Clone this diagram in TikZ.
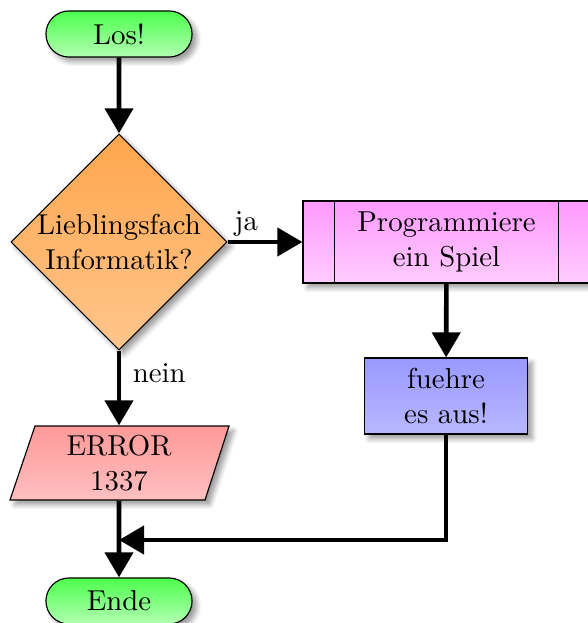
\documentclass[tikz,border=0pt]{standalone}
\usetikzlibrary{shapes.geometric,shapes.misc,arrows.meta,shadows.blur}
\begin{document}
\begin{tikzpicture}[x=0.347pt,y=-0.347pt,
  box/.style={draw=black,thin,blur shadow={shadow xshift=1.6pt,shadow yshift=-1.6pt,shadow blur steps=6},inner sep=0pt,align=center,font=\normalsize},
  startstop/.style={box,rounded rectangle,minimum width=50.7pt,minimum height=16pt,top color=green!70,bottom color=green!30},
  decision/.style={box,diamond,minimum width=75pt,minimum height=75pt,top color=orange!70,bottom color=orange!45},
  process/.style={box,rectangle},
  iofill/.style={draw=black,thin,blur shadow={shadow xshift=1.6pt,shadow yshift=-1.6pt,shadow blur steps=6},top color=red!40,bottom color=red!25},
  io/.style={rectangle,inner sep=0pt,align=center,minimum width=67pt,minimum height=25.7pt},
  arr/.style={line width=1.6pt,draw=black,fill=black,-{Triangle[width=9.7pt,length=8.7pt,fill=black]}},
  lbl/.style={font=\normalsize,inner sep=1pt}]
\useasboundingbox (0,0) rectangle (587,623);
\begin{scope}
\path[iofill] (35,426) -- (229,426) -- (205,500) -- (10,500) -- cycle;
\end{scope}
\node[startstop] (start) at (119,34) {Los!};
\node[decision] (dec) at (119,242) {};
\node[align=center,inner sep=0pt] (dectext) at (119,242) {Lieblingsfach\\Informatik?};
\node[process,minimum width=99.6pt,minimum height=28.5pt,top color=magenta!40,bottom color=magenta!20] (prog) at (446.5,242) {Programmiere\\ein Spiel};
\draw[thin] ([xshift=11.1pt]prog.north west) -- ([xshift=11.1pt]prog.south west);
\draw[thin] ([xshift=-11.1pt]prog.north east) -- ([xshift=-11.1pt]prog.south east);
\node[process,minimum width=56.6pt,minimum height=26.4pt,top color=blue!40,bottom color=blue!28] (fue) at (446,396) {fuehre\\es aus!};
\node[io] (err) at (119,463) {ERROR\\1337};
\node[startstop] (ende) at (119,601) {Ende};
\coordinate (join) at (119,540);
\draw[arr,fill=none] (start) -- (dec);
\draw[arr,fill=none] (dec.east) -- node[lbl,above,pos=0.25] (ja) {ja} (prog.west);
\draw[arr,fill=none] (prog) -- (fue);
\draw[arr,fill=none] (dec.south) -- node[lbl,right,pos=0.3,xshift=3pt] (nein) {nein} (err);
\draw[arr,fill=none] (err) -- (ende);
\draw[arr,fill=none] (fue.south) |- (join);
\end{tikzpicture}
\end{document}
